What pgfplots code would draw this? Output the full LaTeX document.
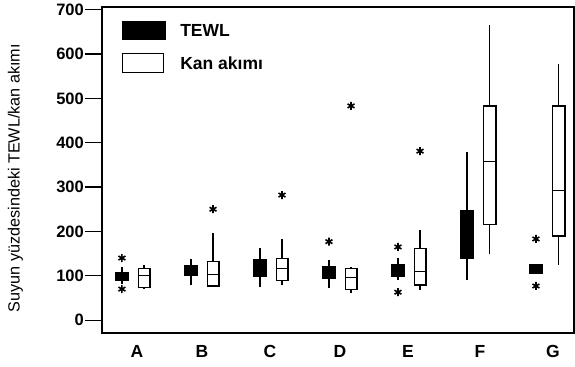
\documentclass[border=0pt]{standalone}
\usepackage{fontspec}
\setmainfont{Liberation Sans}
\usepackage{pgfplots}
\pgfplotsset{compat=1.18}
\pgfplotsset{
  wk/.style={black, line width=1.2pt, no marks, unbounded coords=jump},
  bt/.style={draw=black, fill=black, line width=1.3pt, no marks},
  bk/.style={draw=black, fill=white, line width=1.3pt, no marks},
  ol/.style={only marks, mark=asterisk, mark size=4pt, black, mark options={solid, line width=1.6pt}},
}
\begin{document}
\begin{tikzpicture}
\begin{axis}[
  name=ax,
  scale only axis, width=472pt, height=326pt,
  xmin=0.551, xmax=7.391, ymin=-29, ymax=706,
  axis line style={line width=1.3pt},
  xtick={1.058,2,2.986,4,4.986,6.029,7.087},
  xticklabels={A,B,C,D,E,F,G},
  xtick style={draw=none},
  ytick={0,100,...,700},
  tick align=outside,
  ytick style={line width=1.2pt, black},
  major tick length=17pt,
  ytick pos=left, xtick pos=bottom,
  /pgf/number format/assume math mode=true,
  yticklabel style={font=\fontsize{16.5}{16.5}\selectfont\bfseries, inner sep=1pt},
  xticklabel style={font=\fontsize{17.5}{17.5}\selectfont\bfseries, yshift=8pt},
  ylabel={Suyun yüzdesindeki TEWL/kan akımı},
  ylabel style={font=\fontsize{16.2}{16.2}\selectfont, at={(axis description cs:-0.16,0.475)}, anchor=south},
  legend style={draw=none, fill=none, at={(rel axis cs:0.042,0.957)}, anchor=north west,
    font=\fontsize{17.5}{17.5}\selectfont\bfseries, row sep=12.5pt, column sep=14pt,
    inner sep=0pt, nodes={inner sep=0pt}},
  legend cell align=left,
]
\addlegendimage{legend image code/.code={\draw[draw=black, fill=black, line width=1.2pt] (0pt,-9pt) rectangle (43pt,9pt);}}
\addlegendentry{TEWL}
\addlegendimage{legend image code/.code={\draw[draw=black, fill=white, line width=1.3pt] (0pt,-9pt) rectangle (41pt,10pt);}}
\addlegendentry{Kan akımı}

% whiskers (lower whisker to upper whisker)
\addplot[wk] coordinates {
 (0.84,81) (0.84,120) (0.84,nan)
 (1.16,70) (1.16,125) (1.16,nan)
 (1.84,79) (1.84,137) (1.84,nan)
 (2.16,77) (2.16,197) (2.16,nan)
 (2.84,74) (2.84,162) (2.84,nan)
 (3.16,79) (3.16,184) (3.16,nan)
 (3.84,72) (3.84,135) (3.84,nan)
 (4.16,62) (4.16,119) (4.16,nan)
 (4.84,90) (4.84,141) (4.84,nan)
 (5.16,69) (5.16,203) (5.16,nan)
 (5.84,90) (5.84,378) (5.84,nan)
 (6.17,148) (6.17,666) (6.17,nan)
 (6.84,105) (6.84,126) (6.84,nan)
 (7.17,124) (7.17,578)
};

% TEWL boxes (lower quartile to upper quartile)
\addplot[bt] coordinates {(0.748,90) (0.932,90) (0.932,107) (0.748,107)} -- cycle;
\addplot[bt] coordinates {(1.748,101) (1.932,101) (1.932,122) (1.748,122)} -- cycle;
\addplot[bt] coordinates {(2.748,98) (2.932,98) (2.932,137) (2.748,137)} -- cycle;
\addplot[bt] coordinates {(3.748,94) (3.932,94) (3.932,121) (3.748,121)} -- cycle;
\addplot[bt] coordinates {(4.748,99) (4.932,99) (4.932,126) (4.748,126)} -- cycle;
\addplot[bt] coordinates {(5.748,139) (5.932,139) (5.932,246) (5.748,246)} -- cycle;
\addplot[bt] coordinates {(6.748,105) (6.932,105) (6.932,126) (6.748,126)} -- cycle;

% Kan akimi boxes
\addplot[bk] coordinates {(1.075,74) (1.245,74) (1.245,117) (1.075,117)} -- cycle;
\addplot[bk] coordinates {(2.075,77) (2.245,77) (2.245,132) (2.075,132)} -- cycle;
\addplot[bk] coordinates {(3.075,90) (3.245,90) (3.245,139) (3.075,139)} -- cycle;
\addplot[bk] coordinates {(4.075,69) (4.245,69) (4.245,116) (4.075,116)} -- cycle;
\addplot[bk] coordinates {(5.075,79) (5.245,79) (5.245,162) (5.075,162)} -- cycle;
\addplot[bk] coordinates {(6.08,216) (6.26,216) (6.26,483) (6.08,483)} -- cycle;
\addplot[bk] coordinates {(7.08,190) (7.26,190) (7.26,483) (7.08,483)} -- cycle;

% Kan akimi medians
\addplot[wk] coordinates {
 (1.075,101) (1.245,101) (1.245,nan)
 (2.075,103) (2.245,103) (2.245,nan)
 (3.075,116) (3.245,116) (3.245,nan)
 (4.075,96) (4.245,96) (4.245,nan)
 (5.075,109) (5.245,109) (5.245,nan)
 (6.08,357) (6.26,357) (6.26,nan)
 (7.08,293) (7.26,293)
};

% outliers
\addplot[ol] coordinates {
 (0.84,140) (0.84,70)
 (2.16,250)
 (3.16,282)
 (3.84,177) (4.16,483)
 (4.84,165) (4.84,63) (5.16,381)
 (6.84,183) (6.84,77)
};
\end{axis}
\pgfresetboundingbox
\path ([xshift=-102pt,yshift=-34pt]ax.south west) rectangle ([xshift=1pt,yshift=7pt]ax.north east);
\end{tikzpicture}
\end{document}
